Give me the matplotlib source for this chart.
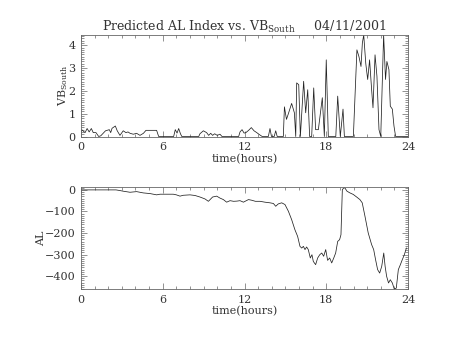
import matplotlib
matplotlib.use('Agg')
import matplotlib.pyplot as plt
from matplotlib.ticker import MultipleLocator
import numpy as np

# VB_south (hours, value)
vb_hours = [0.0, 0.05, 0.3, 0.45, 0.6, 0.76, 0.9, 1.1, 1.3, 1.45, 1.8, 2.08, 2.18, 2.28, 2.52, 2.66, 2.86,
            3.1, 3.3, 3.45, 3.6, 3.84, 4.08, 4.33, 4.58, 4.77, 5.55, 5.7, 6.8, 6.92, 7.05, 7.17, 7.3, 7.4,
            8.64, 8.73, 8.98, 9.22, 9.37, 9.52, 9.66, 9.81, 10.0, 10.2, 10.35, 11.57, 11.67, 11.82, 11.97,
            12.1, 12.3, 12.5, 12.7, 12.9, 13.1, 13.3, 13.75, 13.87, 13.98, 14.18, 14.29, 14.4, 14.85, 14.93,
            15.08, 15.22, 15.46, 15.66, 15.76, 15.83, 15.98, 16.1, 16.34, 16.49, 16.64, 16.78, 16.93, 17.08,
            17.22, 17.42, 17.71, 17.86, 18.0, 18.15, 18.7, 18.84, 19.03, 19.23, 19.33, 19.99, 20.1, 20.25,
            20.4, 20.55, 20.65, 20.75, 20.9, 21.04, 21.18, 21.33, 21.43, 21.58, 21.72, 21.87, 22.0, 22.21,
            22.35, 22.45, 22.6, 22.7, 22.85, 22.97, 23.09, 24.0]
vb_values = [0.2, 0.3, 0.17, 0.35, 0.2, 0.35, 0.17, 0.17, 0.0, 0.03, 0.25, 0.3, 0.17, 0.36, 0.46, 0.25, 0.05,
             0.25, 0.17, 0.2, 0.14, 0.1, 0.14, 0.05, 0.14, 0.27, 0.27, 0.0, 0.0, 0.3, 0.15, 0.35, 0.12, 0.0,
             0.0, 0.12, 0.25, 0.17, 0.05, 0.14, 0.05, 0.12, 0.05, 0.1, 0.0, 0.0, 0.2, 0.3, 0.15,
             0.17, 0.27, 0.39, 0.25, 0.17, 0.08, 0.0, 0.0, 0.35, 0.0, 0.0, 0.25, 0.0, 0.0, 1.3,
             0.75, 1.0, 1.45, 1.04, 0.0, 2.35, 2.27, 0.0, 2.42, 1.04, 2.05, 0.0, 0.0, 2.13,
             0.3, 0.3, 1.7, 0.0, 3.36, 0.0, 0.0, 1.77, 0.0, 1.2, 0.0, 0.0, 1.62, 3.8,
             3.5, 3.07, 4.1, 4.45, 3.2, 2.5, 3.36, 2.05, 1.26, 3.58, 2.64, 0.3, 0.0, 4.45,
             2.5, 3.29, 2.93, 1.33, 1.2, 0.46, 0.0, 0.0]

# AL index (hours, nT)
al_hours = [0.0, 1.0, 2.0, 2.57, 2.85, 3.1, 3.6, 4.08, 4.57, 5.06, 5.55, 5.8, 6.3, 6.77, 7.0, 7.27, 7.5,
            8.0, 8.37, 8.73, 9.1, 9.35, 9.66, 9.96, 10.2, 10.45, 10.69, 10.94, 11.2, 11.45, 11.67, 11.92,
            12.04, 12.29, 12.53, 12.8, 13.14, 13.5, 13.87, 14.12, 14.29, 14.48, 14.73, 14.97, 15.22, 15.46,
            15.7, 15.9, 16.07, 16.2, 16.32, 16.44, 16.56, 16.68, 16.83, 16.95, 17.05, 17.22, 17.37, 17.52,
            17.67, 17.81, 17.96, 18.1, 18.25, 18.4, 18.55, 18.69, 18.84, 18.98, 19.08, 19.18, 19.28, 19.37,
            19.52, 19.74, 19.98, 20.23, 20.47, 20.64, 20.84, 21.08, 21.33, 21.48, 21.62, 21.77, 21.92, 22.07,
            22.22, 22.32, 22.43, 22.57, 22.7, 22.85, 22.99, 23.14, 23.29, 23.44, 23.58, 23.73, 23.88]
al_values = [0, 0, 0, 0, -3, -6, -11, -8, -14, -17, -23, -20, -20, -20, -23, -29, -25,
             -23, -26, -33, -42, -53, -33, -29, -38, -45, -57, -50, -53, -52, -50, -57,
             -53, -45, -48, -53, -53, -57, -60, -63, -76, -65, -60, -68, -99, -138,
             -185, -216, -262, -270, -262, -277, -265, -277, -316, -301, -332, -347, -316, -301,
             -293, -308, -277, -327, -316, -339, -316, -293, -239, -231, -208, 1, 9, 9,
             -6, -14, -21, -33, -45, -60, -122, -200, -254, -277, -324, -370, -386, -355,
             -293, -355, -401, -432, -417, -432, -460, -456, -370, -347, -324, -301, -270]

plt.rcParams['font.family'] = ['DejaVu Serif']
plt.rcParams['mathtext.default'] = 'regular'
plt.rcParams['text.color'] = '#333333'
plt.rcParams['axes.labelcolor'] = '#333333'
plt.rcParams['xtick.labelcolor'] = '#333333'
plt.rcParams['ytick.labelcolor'] = '#333333'
fs = 8
line_col = '#222222'
axis_col = '#666666'

fig = plt.figure(figsize=(4.54, 3.41), dpi=100)
ax1 = fig.add_axes([0.1784, 0.5997, 0.7203, 0.2977])
ax2 = fig.add_axes([0.1784, 0.1525, 0.7203, 0.2982])

ax1.plot(vb_hours, vb_values, color=line_col, lw=0.55)
ax1.set_ylim(0, 4.45)
ax1.yaxis.set_major_locator(MultipleLocator(1))
ax1.yaxis.set_minor_locator(MultipleLocator(0.1))
ax1.set_ylabel('VB$_{South}$', size=fs, labelpad=-1)
ax1.set_title('Predicted AL Index vs. VB$_{South}$     04/11/2001', size=fs + 1, pad=3)

ax2.plot(al_hours, al_values, color=line_col, lw=0.55)
ax2.set_ylim(-460, 12)
ax2.yaxis.set_major_locator(MultipleLocator(100))
ax2.yaxis.set_minor_locator(MultipleLocator(10))
ax2.set_ylabel('AL', size=fs, labelpad=-1)

for ax in (ax1, ax2):
    ax.set_xlim(0, 24)
    ax.xaxis.set_major_locator(MultipleLocator(6))
    ax.xaxis.set_minor_locator(MultipleLocator(1))
    ax.set_xlabel('time(hours)', size=fs, labelpad=1)
    ax.tick_params(which='both', direction='in', top=True, right=True, labelsize=fs,
                   width=0.5, color=axis_col)
    ax.tick_params(which='major', length=4.5, pad=4)
    ax.tick_params(which='minor', length=2)
    for s in ax.spines.values():
        s.set_linewidth(0.6)
        s.set_color(axis_col)

fig.savefig('out.png', dpi=100)
